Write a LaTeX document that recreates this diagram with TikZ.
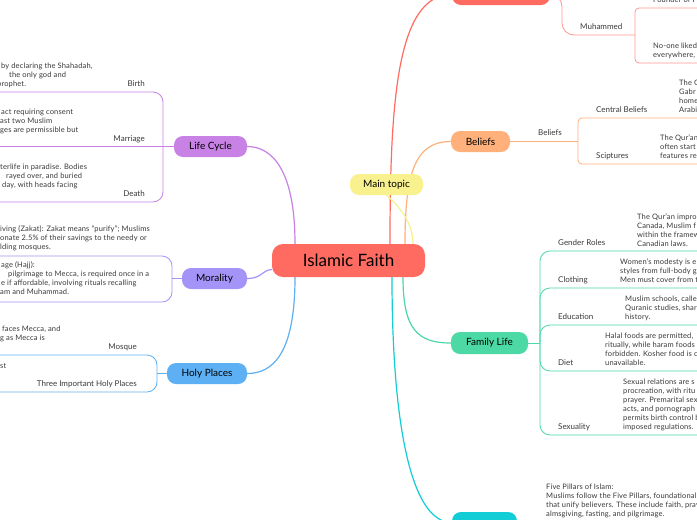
\documentclass[tikz,border=0pt]{standalone}
\usepackage{fontspec}
\setmainfont{Lato}
\newfontfamily\notefont[LetterSpace=2]{Lato}
\usepackage{tikz}
\definecolor{mmred}{HTML}{FF6B61}
\definecolor{mmorange}{HTML}{FFB07B}
\definecolor{mmyellow}{HTML}{F8F18D}
\definecolor{mmgreen}{HTML}{4CD9A6}
\definecolor{mmcyan}{HTML}{12CCD6}
\definecolor{mmpurple}{HTML}{C882E6}
\definecolor{mmlav}{HTML}{A494F7}
\definecolor{mmblue}{HTML}{5DB0F3}
\definecolor{mmtext}{HTML}{3A3A3A}
\pgfdeclarelayer{paper}
\pgfdeclarelayer{wires}
\pgfsetlayers{paper,wires,main}
\tikzset{
  hub/.style={fill=mmred, rounded corners=11pt, minimum width=153pt, minimum height=33pt, inner sep=0pt, font=\fontsize{17}{20}\selectfont},
  topic/.style={rounded corners=9pt, minimum height=21pt, inner sep=0pt, font=\fontsize{10}{12}\selectfont},
  tag/.style={inner sep=0pt, font=\fontsize{8}{10}\selectfont, text=mmtext},
  txt/.style={inner sep=0pt, anchor=north west, align=left, font=\notefont\fontsize{7.5}{9}\selectfont, text=mmtext},
  link/.style={line width=1.2pt},
  twig/.style={line width=0.8pt, rounded corners=4pt},
  bigtwig/.style={line width=0.8pt, rounded corners=10pt},
}
\begin{document}
\begin{tikzpicture}[x=1pt, y=-1pt]
  \useasboundingbox (0,0) rectangle (697,520);
  \begin{pgfonlayer}{paper}
    \fill[white] (0,0) rectangle (697,520);
  \end{pgfonlayer}
  \clip (0,0) rectangle (697,520);

  \node[hub] (faith) at (348.5,260.5) {Islamic Faith};
  \node[topic, fill=mmred, minimum width=98pt] (origin) at (501,-5.5) {};
  \node[topic, fill=mmorange, minimum width=59pt] (beliefs) at (480.5,141.5) {Beliefs};
  \node[topic, fill=mmyellow, minimum width=73pt] (maintopic) at (386.5,184.5) {Main topic};
  \node[topic, fill=mmgreen, minimum width=77pt, minimum height=22pt] (family) at (489.5,343) {Family Life};
  \node[topic, fill=mmcyan, minimum width=65pt] (pillars) at (484.5,522.5) {};
  \node[topic, fill=mmpurple, minimum width=73pt] (lifecycle) at (210.5,146.5) {Life Cycle};
  \node[topic, fill=mmlav, minimum width=65pt] (morality) at (214.5,278.5) {Morality};
  \node[topic, fill=mmblue, minimum width=80pt] (holy) at (207,373.5) {Holy Places};

  \begin{pgfonlayer}{wires}
    \draw[link, mmred] ([xshift=41.5pt]faith.north) .. controls (390,100) and (397,-5.5) .. (origin.west);
    \draw[link, mmorange] ([xshift=56.5pt]faith.north) .. controls (405,175) and (414,141.5) .. (beliefs.west);
    \draw[link, mmyellow] (maintopic.south) .. controls (398,205) and (413,222) .. ([xshift=64.5pt]faith.north);
    \draw[link, mmgreen] ([xshift=54.5pt]faith.south) .. controls (403,330) and (418,343) .. (family.west);
    \draw[link, mmcyan] ([xshift=43.5pt]faith.south) .. controls (392,420) and (410,522.5) .. (pillars.west);
    \draw[link, mmpurple] ([xshift=-53.5pt]faith.north) .. controls (295,170) and (272,146.5) .. (lifecycle.east);
    \draw[link, mmlav] ([yshift=-9pt]faith.west) .. controls (262,270) and (262,278.5) .. (morality.east);
    \draw[link, mmblue] ([xshift=-53.5pt]faith.south) .. controls (295,355) and (272,373.5) .. (holy.east);
  \end{pgfonlayer}

  \draw[twig, mmred!70, rounded corners=12pt] (origin.east) -- (562,-5.5) |- (635,35);
  \draw[twig, mmred!70] (697,8) -- (635,8) -- (635,63) -- (697,63);
  \node[tag, anchor=base west] (muhammed) at (580,29.4) {Muhammed};
  \node[txt] (founder) at (653,-3.6) {Founder of I};
  \node[txt] (disliked) at (653,43.1) {No-one liked\\everywhere,};

  \draw[twig, mmorange] (beliefs.east) -- (578,141.5);
  \draw[twig, mmorange] (697,118) -- (578,118) -- (578,164) -- (697,164);
  \node[tag, anchor=base] (belieftag) at (550,135.4) {Beliefs};
  \node[tag, anchor=base west] (centraltag) at (596,112.8) {Central Beliefs};
  \node[tag, anchor=base west] (scripttag) at (596,158.8) {Sciptures};
  \node[txt] (centraltxt) at (679,79.7) {The Q\\Gabr\\home\\Arabi};
  \node[txt] (scripttxt) at (660,134.7) {The Qur’an\\often start\\features re};

  \draw[twig, mmgreen] (family.east) -- (540,343);
  \foreach \y in {251,288,325,371,435}
    \draw[bigtwig, mmgreen] (540,343) |- (697,\y);
  \node[tag, anchor=base west] (gendertag) at (558,245.4) {Gender Roles};
  \node[tag, anchor=base west] (clothtag) at (558,282.1) {Clothing};
  \node[tag, anchor=base west] (edutag) at (558,319.4) {Education};
  \node[tag, anchor=base west] (diettag) at (558,365.4) {Diet};
  \node[tag, anchor=base west] (sextag) at (558,429.8) {Sexuality};
  \node[txt] (gendertxt) at (637,213.1) {The Qur’an impro\\Canada, Muslim f\\within the framew\\Canadian laws.};
  \node[txt] (clothtxt) at (620,258.7) {Women’s modesty is e\\styles from full-body g\\Men must cover from t};
  \node[txt] (edutxt) at (625,295.7) {Muslim schools, calle\\Quranic studies, shar\\history.};
  \node[txt] (diettxt) at (605,332.4) {Halal foods are permitted,\\ritually, while haram foods\\forbidden. Kosher food is c\\unavailable.};
  \node[txt] (sextxt) at (623,378.7) {Sexual relations are s\\procreation, with ritu\\prayer. Premarital sex\\acts, and pornograph\\permits birth control b\\imposed regulations.};

  \node[txt] (pillarstxt) at (546,483.4) {Five Pillars of Islam:\\Muslims follow the Five Pillars, foundational\\that unify believers. These include faith, pray\\almsgiving, fasting, and pilgrimage.};

  \draw[twig, mmpurple] (0,146.5) -- (lifecycle.west);
  \draw[bigtwig, mmpurple] (0,92) -- (163,92) -- (163,202) -- (0,202);
  \node[tag, anchor=base east] (birthtag) at (145,86.4) {Birth};
  \node[tag, anchor=base east] (marriagetag) at (145,141.4) {Marriage};
  \node[tag, anchor=base east] (deathtag) at (145,196.4) {Death};
  \node[txt] (birthtxt) at (-3,62.4) {\hspace*{4pt}by declaring the Shahadah,\\\hspace*{12pt}the only god and\\prophet.};
  \node[txt] (marriagetxt) at (0,108.7) {\hspace*{1pt}act requiring consent\\ast two Muslim\\ges are permissible but};
  \node[txt] (deathtxt) at (0,163.7) {terlife in paradise. Bodies\\\hspace*{6pt}rayed over, and buried\\\hspace*{2pt}day, with heads facing};

  \draw[twig, mmlav] (172,278.5) -- (morality.west);
  \draw[bigtwig, mmlav] (0,256) -- (172,256) -- (172,302) -- (0,302);
  \node[txt] (zakattxt) at (0,225.7) {iving (Zakat): Zakat means “purify”; Muslims\\onate 2.5\% of their savings to the needy or\\lding mosques.};
  \node[txt] (hajjtxt) at (0,261.4) {\hspace*{1pt}age (Hajj):\\\hspace*{8pt}pilgrimage to Mecca, is required once in a\\\hspace*{1pt}e if affordable, involving rituals recalling\\am and Muhammad.};

  \draw[twig, mmblue] (157,373.5) -- (holy.west);
  \draw[bigtwig, mmblue] (0,355) -- (157,355) -- (157,392) -- (0,392);
  \node[tag, anchor=base east] (mosquetag) at (137,349.4) {Mosque};
  \node[tag, anchor=base east] (placestag) at (137,386.4) {Three Important Holy Places};
  \node[txt] (mosquetxt) at (0,325.7) {\hspace*{2pt}faces Mecca, and\\g as Mecca is};
  \node[txt] (placestxt) at (0,363.1) {st};
\end{tikzpicture}
\end{document}
